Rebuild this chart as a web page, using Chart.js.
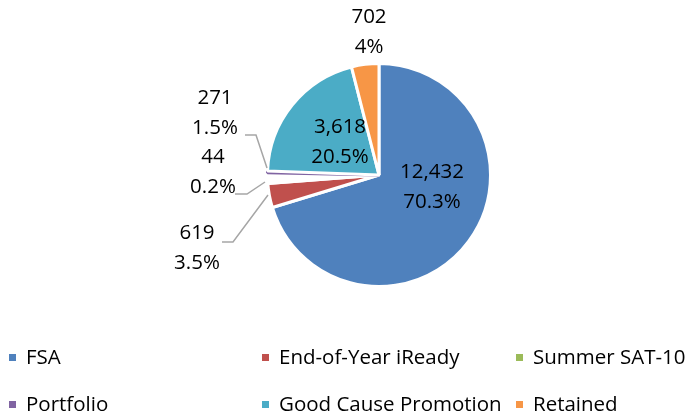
<!DOCTYPE html>
<html>
<head>
<meta charset="utf-8">
<script src="https://cdn.jsdelivr.net/npm/chart.js@4"></script>
<style>
  body { margin: 0; background: #fff; }
  #wrap { position: relative; width: 688px; height: 416px; }
  #legend { position: absolute; left: 0; top: 0; width: 688px; height: 416px; pointer-events: none;
    font-family: "Open Sans", sans-serif; font-size: 20.5px; color: #000; }
  .item { position: absolute; white-space: nowrap; line-height: 20px; }
  .box { display: inline-block; width: 7px; height: 7px; margin-right: 10px; vertical-align: 3px; }
</style>
</head>
<body>
<div id="wrap">
  <canvas id="pie" width="688" height="416"></canvas>
  <div id="legend"></div>
</div>
<script>
const categories = ["FSA", "End-of-Year iReady", "Summer SAT-10", "Portfolio", "Good Cause Promotion", "Retained"];
const counts = [12432, 619, 271, 44, 3618, 702];
const percentLabels = ["70.3%", "3.5%", "1.5%", "0.2%", "20.5%", "4%"];
const colors = ["#4F81BD", "#C0504D", "#9BBB59", "#8064A2", "#4BACC6", "#F79646"];

// slice fill: the SAT-10 wedge shows up blank in the original
const sliceFill = colors.map((c, i) => (i === 2 ? "#ffffff" : c));
// tiny Portfolio wedge keeps its own colour as border so it stays visible
const sliceBorder = colors.map((c, i) => (i === 3 ? c : "#ffffff"));

// label placement (relative to pie centre) and leader lines
const labelSpots = [
  { dx: 53, dy: 12 },
  { dx: -182, dy: 73, line: [[-157, 67], [-146, 67], [-111, 20]] },
  { dx: -164, dy: -62, line: [[-134, -40], [-123, -40], [-112, -7]] },
  { dx: -166, dy: -3, line: [[-144, 19], [-132, 19], [-114, 7]] },
  { dx: -39, dy: -33 },
  { dx: -10, dy: -143 }
];

const labelPlugin = {
  id: "sliceLabels",
  afterDatasetsDraw(chart) {
    const ctx = chart.ctx;
    const arc = chart.getDatasetMeta(0).data[0];
    const cx = arc.x, cy = arc.y;
    ctx.save();
    ctx.font = "20.5px 'Open Sans', sans-serif";
    ctx.fillStyle = "#000";
    ctx.textAlign = "center";
    ctx.textBaseline = "middle";
    labelSpots.forEach((s, i) => {
      if (s.line) {
        ctx.strokeStyle = "#A6A6A6";
        ctx.lineWidth = 1.5;
        ctx.beginPath();
        s.line.forEach((p, k) => (k ? ctx.lineTo(cx + p[0], cy + p[1]) : ctx.moveTo(cx + p[0], cy + p[1])));
        ctx.stroke();
      }
      ctx.fillText(counts[i].toLocaleString("en-US"), cx + s.dx, cy + s.dy - 15);
      ctx.fillText(percentLabels[i], cx + s.dx, cy + s.dy + 15);
    });
    ctx.restore();
  }
};

new Chart(document.getElementById("pie"), {
  type: "pie",
  data: {
    labels: categories,
    datasets: [{
      data: counts,
      backgroundColor: sliceFill,
      borderColor: sliceBorder,
      borderWidth: 3
    }]
  },
  options: {
    responsive: false,
    animation: false,
    layout: { padding: { left: 266, right: 196, top: 62, bottom: 128 } },
    plugins: { legend: { display: false }, tooltip: { enabled: false } }
  },
  plugins: [labelPlugin]
});

// legend in three columns, two rows
const legendCols = [9, 262, 516];
const legendRows = [346, 393];
const legend = document.getElementById("legend");
categories.forEach((name, i) => {
  const el = document.createElement("div");
  el.className = "item";
  el.style.left = legendCols[i % 3] + "px";
  el.style.top = legendRows[Math.floor(i / 3)] + "px";
  el.innerHTML = '<span class="box" style="background:' + colors[i] + '"></span>' + name;
  legend.appendChild(el);
});
</script>
</body>
</html>
